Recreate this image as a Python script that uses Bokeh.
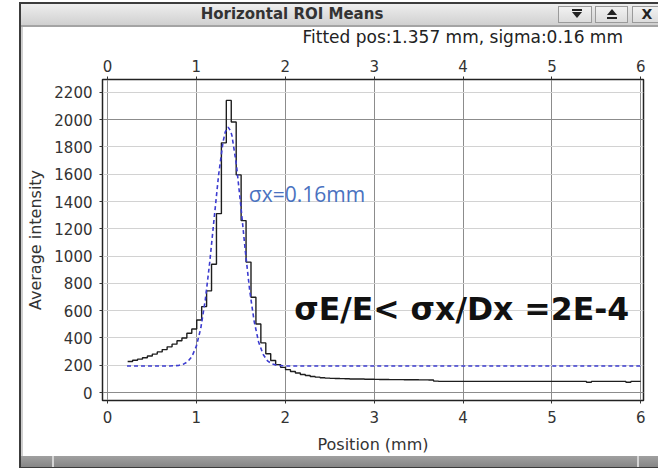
import numpy as np
from bokeh.plotting import figure
from bokeh.layouts import column, row
from bokeh.models import (LinearAxis, FixedTicker, Grid, Label, Range1d, Div)
from bokeh.embed import file_html
from bokeh.resources import INLINE

# ---------------- data ----------------
bin_start = 0.227
bin_width = 0.0555
counts = [228, 237, 245, 255, 268, 282, 298, 315, 335, 355,
          380, 400, 435, 466, 532, 630, 745, 940, 1311, 1830,
          2141, 1983, 1595, 1260, 956, 699, 502, 364, 284, 235,
          205, 185, 168, 155, 143, 133, 125, 118, 113, 109,
          106, 104, 103, 102, 101, 100, 100, 99, 98, 98,
          97, 96, 96, 95, 95, 95, 94, 94, 94, 93,
          93, 92, 84, 82, 82, 82, 82, 82, 82, 82,
          82, 82, 82, 82, 82, 82, 82, 82, 82, 82,
          82, 82, 82, 82, 82, 82, 82, 82, 82, 82,
          82, 82, 82, 76, 82, 82, 82, 82, 82, 82,
          82, 76, 82, 82]
fit_x = [0.22, 0.7, 0.8, 0.85, 0.9, 0.95, 1.0, 1.05, 1.1, 1.15, 1.2, 1.25,
         1.3, 1.325, 1.357, 1.385, 1.4, 1.45, 1.5, 1.55, 1.6, 1.65, 1.7,
         1.75, 1.8, 1.85, 1.9, 2.0, 6.0]
fit_y = [195, 195, 199, 207, 225, 264, 340, 473, 677, 953, 1277, 1594,
         1837, 1910, 1945, 1918, 1883, 1673, 1369, 1041, 747, 522, 371,
         281, 233, 210, 201, 195, 195]
x_ticks = [0, 1, 2, 3, 4, 5, 6]
y_ticks = [0, 200, 400, 600, 800, 1000, 1200, 1400, 1600, 1800, 2000, 2200]
window_title = "Horizontal ROI Means"
fit_text = "Fitted pos:1.357 mm, sigma:0.16 mm"

edges = [round(bin_start + bin_width * i, 4) for i in range(len(counts) + 1)]
step_y = counts + [counts[-1]]

FONT = "DejaVu Sans"

p = figure(width=635, height=406, output_backend="svg", toolbar_location=None,
           x_range=Range1d(-0.056, 6.03), y_range=Range1d(-58, 2294),
           min_border_left=79, min_border_right=15, min_border_top=29,
           min_border_bottom=54, background_fill_color="white",
           border_fill_color="white", outline_line_color="#222222",
           outline_line_width=1.5, margin=0)

bottom_axis = p.below[0]
left_axis = p.left[0]

# grids
p.xgrid.ticker = FixedTicker(ticks=x_ticks)
p.xgrid.grid_line_color = "#8c8c8c"
p.ygrid.ticker = FixedTicker(ticks=y_ticks)
p.ygrid.grid_line_color = "#d2d2d2"
p.add_layout(Grid(dimension=1, ticker=FixedTicker(ticks=[0, 2000]),
                  grid_line_color="#8c8c8c"))

top_axis = LinearAxis()
p.add_layout(top_axis, "above")

for ax in [bottom_axis, top_axis]:
    ax.ticker = FixedTicker(ticks=x_ticks)
for ax in [bottom_axis, top_axis, left_axis]:
    ax.major_label_text_font = FONT
    ax.major_label_text_font_size = "15px"
    ax.major_label_text_color = "#333333"
    ax.axis_line_color = "#222222"
    ax.major_tick_line_color = "#333333"
    ax.major_tick_out = 3
    ax.major_tick_in = 0
    ax.minor_tick_out = 0
    ax.minor_tick_in = 0
    ax.axis_label_text_font = FONT
    ax.axis_label_text_font_size = "16px"
    ax.axis_label_text_font_style = "normal"
    ax.axis_label_text_color = "#333333"
left_axis.ticker = FixedTicker(ticks=y_ticks)
left_axis.axis_label = "Average intensity"
left_axis.major_label_standoff = 7
left_axis.axis_label_standoff = 6
bottom_axis.axis_label = "Position (mm)"
bottom_axis.major_label_standoff = 7
bottom_axis.axis_label_standoff = 9
top_axis.major_label_standoff = 5

# data
p.step(x=edges, y=step_y, mode="after", line_color="#1e1e1e", line_width=1.4)
p.line(x=fit_x, y=fit_y, line_color="#3c3cd0", line_width=1.6, line_dash="4 3")

p.add_layout(Label(x=1.59, y=1455, text="σx=0.16mm", text_font="Open Sans",
                   text_font_size="21px", text_color="#4a72c0",
                   text_baseline="alphabetic", text_align="left"))
p.add_layout(Label(x=2.10, y=610, text="σE/E< σx/Dx =2E-4", text_font=FONT,
                   text_font_size="31.5px", text_font_style="bold",
                   text_color="#111111", text_baseline="alphabetic",
                   text_align="left"))

# ---------------- window decoration (HTML) ----------------
def blk(l, t, w, h, bg, extra=""):
    return (f'<div style="position:absolute;left:{l}px;top:{t}px;width:{w}px;'
            f'height:{h}px;background:{bg};{extra}"></div>')

btn = "box-sizing:border-box;border:1px solid #9a9a9a;"
top_html = ('<div style="position:relative;width:658px;height:50px;'
            'background:#ffffff;overflow:hidden;font-family:\'DejaVu Sans\';">'
            + blk(19, 2, 660, 2, "#3c3c3c")
            + blk(19, 2, 2, 48, "#3c3c3c")
            + blk(21, 4, 640, 21, "linear-gradient(#eeeeee,#d0d0d0)")
            + blk(21, 25, 640, 2, "#a4a4a4")
            + blk(21, 27, 2, 23, "#cfcfcf")
            + blk(558, 6, 34, 17, "linear-gradient(#f2f2f2,#dcdcdc)", btn)
            + blk(595, 6, 33, 17, "linear-gradient(#f2f2f2,#dcdcdc)", btn)
            + blk(632, 6, 30, 17, "linear-gradient(#f2f2f2,#dcdcdc)", btn)
            + blk(572, 9, 10, 2, "#222")
            + '<div style="position:absolute;left:572px;top:12px;width:0;height:0;'
              'border-left:5px solid transparent;border-right:5px solid transparent;'
              'border-top:6px solid #222;"></div>'
            + '<div style="position:absolute;left:607px;top:9px;width:0;height:0;'
              'border-left:5px solid transparent;border-right:5px solid transparent;'
              'border-bottom:6px solid #222;"></div>'
            + blk(607, 17, 10, 2, "#222")
            + '<div style="position:absolute;left:638px;top:5px;width:18px;height:19px;'
              'line-height:19px;text-align:center;font-weight:bold;font-size:14px;color:#222;">X</div>'
            + f'<div style="position:absolute;left:142px;top:4px;width:300px;height:21px;'
              f'line-height:21px;text-align:center;font-weight:bold;font-size:15px;color:#333;">{window_title}</div>'
            + f'<div style="position:absolute;right:35px;top:27px;height:20px;white-space:nowrap;'
              f'line-height:20px;font-size:17px;color:#222;">{fit_text}</div>'
            + '</div>')

left_html = ('<div style="position:relative;width:23px;height:406px;background:#ffffff;">'
             + blk(19, 0, 2, 406, "#3c3c3c")
             + blk(21, 0, 2, 406, "#cfcfcf")
             + '</div>')

bottom_html = ('<div style="position:relative;width:658px;height:12px;background:#ffffff;overflow:hidden;">'
               + blk(19, 0, 2, 12, "#3c3c3c")
               + blk(21, 0, 640, 11, "linear-gradient(#a0a0a0,#868686)")
               + blk(52, 0, 2, 11, "#d4d4d4")
               + blk(637, 0, 2, 11, "#d4d4d4")
               + blk(19, 11, 660, 1, "#3c3c3c")
               + '</div>')

top_div = Div(text=top_html, width=658, height=50, margin=0)
left_div = Div(text=left_html, width=23, height=406, margin=0)
bottom_div = Div(text=bottom_html, width=658, height=12, margin=0)

layout = column(top_div, row(left_div, p, spacing=0, margin=0), bottom_div,
                spacing=0, margin=0)

open("out.html", "w").write(file_html(layout, INLINE))
